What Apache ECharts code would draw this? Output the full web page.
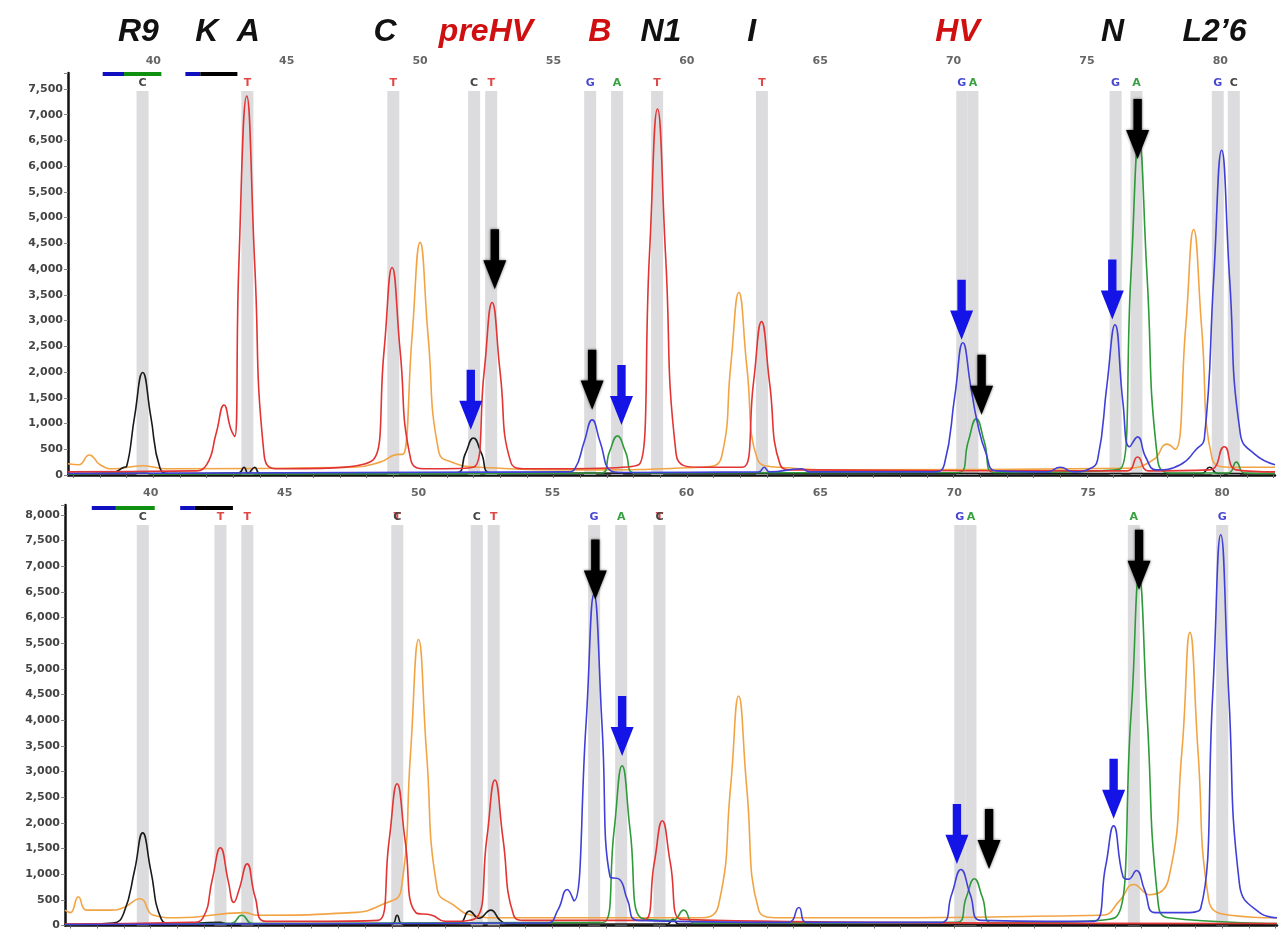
<!DOCTYPE html>
<html>
<head>
<meta charset="utf-8">
<script src="https://cdn.jsdelivr.net/npm/echarts@6/dist/echarts.min.js"></script>
<style>
  html, body { margin: 0; padding: 0; background: #fff; }
  #main { width: 1282px; height: 931px; }
</style>
</head>
<body>
<div id="main"></div>
<script>
// ---- data ----
var xLabels = [40, 45, 50, 55, 60, 65, 70, 75, 80];
var xTicks = [37, 38, 39, 40, 41, 42, 43, 44, 45, 46, 47, 48, 49, 50, 51, 52, 53, 54, 55, 56, 57, 58, 59, 60,
  61, 62, 63, 64, 65, 66, 67, 68, 69, 70, 71, 72, 73, 74, 75, 76, 77, 78, 79, 80, 81, 82];

// haplogroup labels above the panels: [name, x, colour]
var hgLabels = [
  ['R9', 39.44, '#111'], ['K', 42.0, '#111'], ['A', 43.56, '#111'], ['C', 48.69, '#111'],
  ['preHV', 52.47, '#d01010'], ['B', 56.74, '#d01010'], ['N1', 59.03, '#111'], ['I', 62.43, '#111'],
  ['HV', 70.15, '#d01010'], ['N', 75.96, '#111'], ['L2\u20196', 79.78, '#111']
];

// allele bins: [from, to, base]
var topBins = [
  [39.37, 39.82, 'C'], [43.3, 43.75, 'T'], [48.77, 49.22, 'T'], [51.8, 52.25, 'C'], [52.44, 52.89, 'T'],
  [56.15, 56.6, 'G'], [57.16, 57.61, 'A'], [58.66, 59.11, 'T'], [62.59, 63.04, 'T'],
  [70.1, 70.52, 'G'], [70.52, 70.93, 'A'], [75.85, 76.3, 'G'], [76.63, 77.08, 'A'],
  [79.68, 80.13, 'G'], [80.28, 80.73, 'C']
];
var bottomBins = [
  [39.48, 39.93, 'C'], [42.38, 42.83, 'T'], [43.38, 43.83, 'T'], [48.98, 49.43, 'T'], [48.98, 49.43, 'C'],
  [51.95, 52.4, 'C'], [52.58, 53.03, 'T'], [56.33, 56.78, 'G'], [57.34, 57.79, 'A'],
  [58.77, 59.22, 'T'], [58.77, 59.22, 'C'], [70.0, 70.42, 'G'], [70.42, 70.83, 'A'],
  [76.48, 76.93, 'A'], [79.78, 80.23, 'G']
];

// run bars at the top left: [from, to, colour]
var topBars = [[38.1, 38.9, '#1010c0'], [38.9, 40.3, '#109010'], [41.2, 41.76, '#1010c0'], [41.76, 43.15, '#000']];
var bottomBars = [[37.8, 38.7, '#1010c0'], [38.7, 40.15, '#109010'], [41.1, 41.65, '#1010c0'], [41.65, 43.07, '#000']];

// arrows: [x, tip value]
var topBlackArrows = [[52.8, 3610], [56.45, 1270], [71.05, 1170], [76.9, 6140]];
var topBlueArrows = [[51.9, 880], [57.55, 970], [70.3, 2630], [75.95, 3020]];
var bottomBlackArrows = [[56.6, 6350], [71.3, 1100], [76.9, 6540]];
var bottomBlueArrows = [[57.6, 3300], [70.1, 1200], [75.95, 2080]];

// traces, top panel
var topBlack = [[36.8, 30], [38.4, 40], [38.9, 150], [39.0, 170], [39.3, 1150], [39.6, 1990], [39.9, 1150],
  [40.25, 130], [40.6, 30], [43.2, 40], [43.4, 150], [43.55, 30], [43.8, 150], [44.0, 30], [51.35, 40],
  [51.7, 420], [52.0, 720], [52.3, 420], [52.65, 40], [79.3, 30], [79.6, 150], [79.9, 30], [82.05, 30]];
var topRed = [[36.8, 60], [41.5, 80], [42.0, 200], [42.35, 800], [42.65, 1360], [42.9, 900], [43.05, 750],
  [43.2, 4000], [43.5, 7360], [43.8, 4100], [44.15, 400], [44.6, 120], [48.25, 300], [48.65, 2420],
  [48.95, 4030], [49.25, 2420], [49.65, 300], [50.2, 120], [52.0, 150], [52.4, 2000], [52.7, 3350],
  [53.0, 2000], [53.4, 250], [54.0, 120], [58.2, 200], [58.6, 4300], [58.9, 7110], [59.2, 4300],
  [59.6, 400], [60.5, 150], [62.1, 150], [62.5, 1800], [62.8, 2980], [63.1, 1800], [63.5, 200], [64.0, 100],
  [76.5, 80], [76.9, 350], [77.3, 80], [79.6, 100], [80.15, 550], [80.6, 100], [82.05, 60]];
var topOrange = [[36.8, 220], [37.2, 200], [37.6, 390], [38.0, 200], [38.5, 120], [39.6, 180], [40.5, 120],
  [47.5, 150], [48.5, 250], [49.2, 400], [49.35, 400], [49.7, 2700], [50.0, 4520], [50.3, 2700], [50.7, 450],
  [51.2, 250], [52.2, 150], [56, 100], [60.5, 150], [61.3, 350], [61.65, 2150], [61.95, 3545], [62.25, 2100],
  [62.65, 300], [63.5, 150], [66, 100], [76.5, 130], [77.5, 300], [78.0, 600], [78.3, 500], [78.7, 2860],
  [79.0, 4770], [79.3, 2860], [79.7, 300], [80.5, 150], [82.05, 150]];
var topBlue = [[36.8, 30], [55.5, 60], [55.8, 120], [56.15, 640], [56.45, 1070], [56.75, 640], [57.15, 80],
  [57.5, 50], [62.7, 60], [62.9, 150], [63.1, 60], [64.3, 120], [64.6, 60], [69.3, 60], [69.65, 200],
  [70.05, 1550], [70.35, 2570], [70.65, 1700], [70.9, 1000], [71.2, 450], [71.6, 80], [73.5, 60], [74, 150],
  [74.5, 60], [75.1, 120], [75.4, 300], [75.75, 1750], [76.05, 2920], [76.35, 1400], [76.6, 550], [76.9, 740],
  [77.2, 350], [77.6, 100], [78.5, 200], [79.1, 500], [79.4, 700], [79.75, 3800], [80.05, 6310], [80.35, 3800],
  [80.75, 800], [81.3, 400], [82.05, 200]];
var topGreen = [[36.8, 20], [38.0, 30], [39.5, 60], [40, 20], [56.8, 40], [57.1, 450], [57.4, 760], [57.7, 450],
  [58.05, 40], [70.2, 50], [70.55, 650], [70.85, 1090], [71.15, 650], [71.5, 50], [76.25, 120], [76.65, 3900],
  [76.95, 6520], [77.25, 3900], [77.65, 300], [78.1, 40], [80.3, 40], [80.6, 250], [80.9, 40], [82.05, 30]];

// traces, bottom panel
var bottomBlack = [[36.8, 20], [38.6, 50], [39.0, 250], [39.4, 1080], [39.7, 1805], [40.0, 1080], [40.4, 120],
  [40.8, 30], [42.6, 60], [42.8, 40], [49.0, 30], [49.2, 200], [49.4, 30], [51.5, 40], [51.9, 280], [52.25, 140],
  [52.7, 300], [53.05, 100], [53.4, 30], [59.3, 30], [59.5, 120], [59.7, 30], [82.05, 20]];
var bottomRed = [[36.8, 30], [41.5, 60], [41.95, 150], [42.3, 900], [42.6, 1515], [42.9, 850], [43.1, 450],
  [43.3, 700], [43.6, 1200], [43.9, 550], [44.3, 80], [48.5, 100], [48.9, 1650], [49.2, 2760], [49.5, 1650],
  [49.9, 250], [50.5, 200], [51.0, 80], [52.15, 150], [52.55, 1700], [52.85, 2835], [53.15, 1700], [53.55, 200],
  [54.0, 100], [58.4, 100], [58.8, 1220], [59.1, 2040], [59.4, 1220], [59.8, 120], [82.05, 40]];
var bottomOrange = [[36.8, 300], [37.0, 250], [37.3, 560], [37.6, 300], [38.5, 300], [39.0, 350], [39.6, 520],
  [40.1, 200], [41, 150], [43.5, 250], [44.0, 200], [47.5, 250], [48.6, 400], [49.35, 700], [49.7, 3350],
  [50.0, 5570], [50.3, 3350], [50.7, 700], [51.3, 400], [52, 200], [53, 150], [60.5, 150], [61.2, 400],
  [61.65, 2700], [61.95, 4470], [62.25, 2700], [62.7, 300], [63.5, 150], [75.5, 200], [76.2, 500], [76.7, 800],
  [77.3, 600], [78.0, 900], [78.5, 3400], [78.8, 5710], [79.1, 3400], [79.5, 500], [80.3, 200], [82.05, 150]];
var bottomBlue = [[36.8, 20], [54.8, 50], [55.2, 300], [55.55, 700], [55.8, 480], [56.25, 3900], [56.55, 6450],
  [56.85, 3900], [57.15, 950], [57.5, 900], [57.8, 500], [58.2, 100], [63.8, 60], [64.2, 350], [64.5, 60],
  [69.5, 60], [69.9, 600], [70.25, 1090], [70.6, 600], [71.0, 100], [75.2, 80], [75.65, 1150], [75.95, 1940],
  [76.3, 950], [76.5, 900], [76.8, 1070], [77.1, 700], [77.5, 250], [78.5, 250], [79.2, 330], [79.65, 4500],
  [79.95, 7610], [80.25, 4500], [80.65, 800], [81.4, 250], [82.05, 150]];
var bottomGreen = [[36.8, 20], [43.0, 40], [43.4, 200], [43.8, 40], [56.9, 60], [57.3, 1850], [57.6, 3110],
  [57.9, 1850], [58.3, 150], [59.5, 100], [59.9, 300], [60.3, 50], [70.1, 60], [70.45, 550], [70.75, 910],
  [71.05, 550], [71.4, 50], [76.0, 150], [76.6, 4100], [76.9, 6800], [77.2, 4100], [77.6, 500], [78.0, 150],
  [82.05, 40]];

// ---- styling ----
var baseColor = { C: '#444', T: '#e04848', G: '#4848d0', A: '#38a040' };
var traceColor = { black: '#1a1a1a', red: '#e23434', orange: '#f2a445', blue: '#4040d8', green: '#2f9a3a' };
var arrowPath = 'path://M7,0 L15,0 L15,32 L22,32 L11,62 L0,32 L7,32 Z';

function fmt(v) {
  return v % 500 === 0 ? v.toLocaleString('en-US') : '';
}

function xAxisFor(gi) {
  return {
    type: 'value', gridIndex: gi, min: 36.8, max: 82.05, position: 'top',
    axisLine: { lineStyle: { color: '#111', width: 2.5 } },
    axisTick: { show: true, customValues: xTicks, length: 3, inside: true, lineStyle: { color: '#666' } },
    axisLabel: { customValues: xLabels, color: '#666', fontSize: 11, fontWeight: 'bold', fontFamily: 'Verdana, DejaVu Sans', margin: 6 },
    splitLine: { show: false }
  };
}
function yAxisFor(gi, max) {
  return {
    type: 'value', gridIndex: gi, min: 0, max: max, interval: 500,
    axisLine: { show: true, lineStyle: { color: '#111', width: 2.5 } },
    axisTick: { show: true, length: 4, lineStyle: { color: '#888' } },
    axisLabel: { formatter: fmt, color: '#444', fontSize: 11, fontWeight: 'bold', fontFamily: 'Verdana, DejaVu Sans', margin: 5 },
    splitLine: { show: false }
  };
}

function trace(gi, data, color) {
  return {
    type: 'line', xAxisIndex: gi, yAxisIndex: gi, data: data, showSymbol: false, symbol: 'none',
    smooth: 0.5, z: 3, silent: true,
    lineStyle: { color: color, width: 1.6 }
  };
}

function decoSeries(gi, bins, bandTop, bars, barY) {
  return {
    type: 'line', xAxisIndex: gi, yAxisIndex: gi, data: [], z: 1, silent: true,
    markArea: {
      silent: true,
      itemStyle: { color: 'rgba(205,205,208,0.7)' },
      data: bins.map(function (b, i) {
        var prev = bins[i - 1];
        var dup = prev && prev[0] === b[0] && prev[1] === b[1];
        return [{ coord: [b[0], 0],
          itemStyle: dup ? { color: 'rgba(0,0,0,0)' } : undefined,
          label: { show: true, position: 'top', distance: 2, formatter: b[2],
          color: baseColor[b[2]], fontSize: 11, fontWeight: 'bold', fontFamily: 'Verdana, DejaVu Sans' } },
          { coord: [b[1], bandTop] }];
      })
    },
    markLine: {
      silent: true, symbol: 'none', label: { show: false },
      data: bars.map(function (b) {
        return [{ coord: [b[0], barY], lineStyle: { color: b[2], width: 4, type: 'solid' } }, { coord: [b[1], barY] }];
      })
    }
  };
}

function arrowSeries(gi, pts, color, blur) {
  return {
    type: 'line', xAxisIndex: gi, yAxisIndex: gi, data: [], z: 6, silent: true,
    markPoint: {
      silent: true, symbol: arrowPath, symbolSize: [23, 60], symbolKeepAspect: false, symbolOffset: [0, '-50%'],
      label: { show: false },
      itemStyle: { color: color, shadowBlur: blur, shadowColor: 'rgba(0,0,0,0.6)' },
      data: pts.map(function (p) { return { coord: p }; })
    }
  };
}

var chart = echarts.init(document.getElementById('main'));
chart.setOption({
  backgroundColor: '#fff',
  animation: false,
  grid: [
    { left: 68, right: 7, top: 73, height: 402 },
    { left: 65, right: 5, top: 505, height: 422 }
  ],
  xAxis: [xAxisFor(0), xAxisFor(1)],
  yAxis: [yAxisFor(0, 7810), yAxisFor(1, 8190)],
  series: [
    decoSeries(0, topBins, 7460, topBars, 7790),
    trace(0, topOrange, traceColor.orange),
    trace(0, topBlack, traceColor.black),
    trace(0, topGreen, traceColor.green),
    trace(0, topRed, traceColor.red),
    trace(0, topBlue, traceColor.blue),
    arrowSeries(0, topBlackArrows, '#000', 3),
    arrowSeries(0, topBlueArrows, '#1414e6', 0),
    decoSeries(1, bottomBins, 7800, bottomBars, 8137),
    trace(1, bottomOrange, traceColor.orange),
    trace(1, bottomBlack, traceColor.black),
    trace(1, bottomGreen, traceColor.green),
    trace(1, bottomRed, traceColor.red),
    trace(1, bottomBlue, traceColor.blue),
    arrowSeries(1, bottomBlackArrows, '#000', 3),
    arrowSeries(1, bottomBlueArrows, '#1414e6', 0)
  ]
});

// haplogroup names, placed over the top axis positions
chart.setOption({
  graphic: hgLabels.map(function (h) {
    var px = chart.convertToPixel({ xAxisIndex: 0 }, h[1]);
    return {
      type: 'text', x: px, y: 32, silent: true,
      style: {
        text: h[0], fill: h[2], align: 'center', verticalAlign: 'middle',
        fontFamily: '"Liberation Sans Narrow", "Arial Narrow", "Liberation Sans", sans-serif',
        fontSize: 32, fontWeight: 'bold', fontStyle: 'italic',
        shadowColor: 'rgba(0,0,0,0.45)', shadowBlur: 3, shadowOffsetX: 2, shadowOffsetY: 2
      }
    };
  })
});
</script>
</body>
</html>
